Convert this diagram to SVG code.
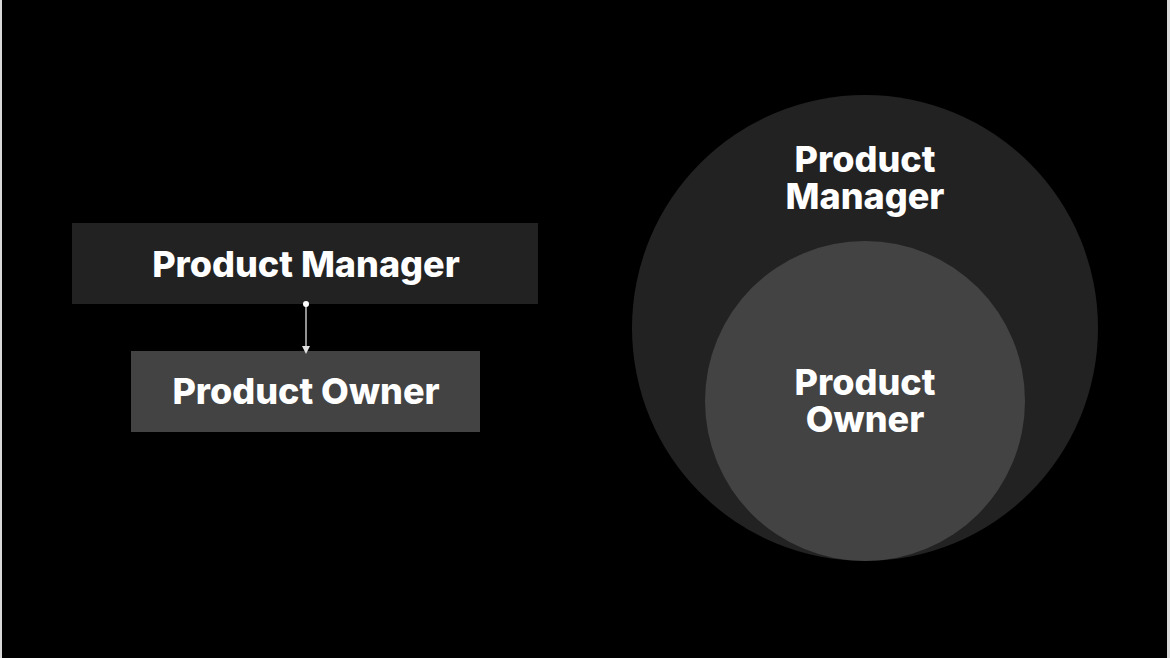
<svg xmlns="http://www.w3.org/2000/svg" width="1170" height="658" viewBox="0 0 1170 658">
<style>
.t{font-family:Inter,"Open Sans","Liberation Sans",sans-serif;font-weight:800;fill:#ffffff;text-anchor:middle}
.dark{fill:#222222}
.mid{fill:#434343}
</style>
<defs>
<marker id="arr" markerWidth="8" markerHeight="8" refX="4" refY="4" orient="auto" markerUnits="userSpaceOnUse">
<path d="M0,0 L8,4 L0,8 z" fill="#e0e0e0"/>
</marker>
<marker id="dot" markerWidth="8" markerHeight="8" refX="4" refY="4" markerUnits="userSpaceOnUse">
<circle cx="4" cy="4" r="3" fill="#ffffff"/>
</marker>
</defs>
<rect x="0" y="0" width="1170" height="658" fill="#000000"/>
<rect x="0" y="0" width="2" height="658" fill="#d9d9d9"/>
<rect x="1167" y="0" width="3" height="658" fill="#d9d9d9"/>
<g id="pm-box">
<rect class="dark" x="72" y="223" width="466" height="81"/>
<text class="t" x="306" y="277" font-size="36">Product Manager</text>
</g>
<g id="po-box">
<rect class="mid" x="131" y="351" width="349" height="81"/>
<text class="t" x="306" y="404" font-size="36">Product Owner</text>
</g>
<g id="connectors">
<line x1="306" y1="304" x2="306" y2="350" stroke="#e0e0e0" stroke-width="1.3" marker-start="url(#dot)" marker-end="url(#arr)"/>
</g>
<g id="pm-circle">
<circle class="dark" cx="865" cy="328" r="233"/>
<text class="t" x="865" y="172" font-size="36">Product</text>
<text class="t" x="865" y="209" font-size="36">Manager</text>
</g>
<g id="po-circle">
<circle class="mid" cx="865" cy="401" r="160"/>
<text class="t" x="865" y="395" font-size="36">Product</text>
<text class="t" x="865" y="432" font-size="36">Owner</text>
</g>
</svg>
